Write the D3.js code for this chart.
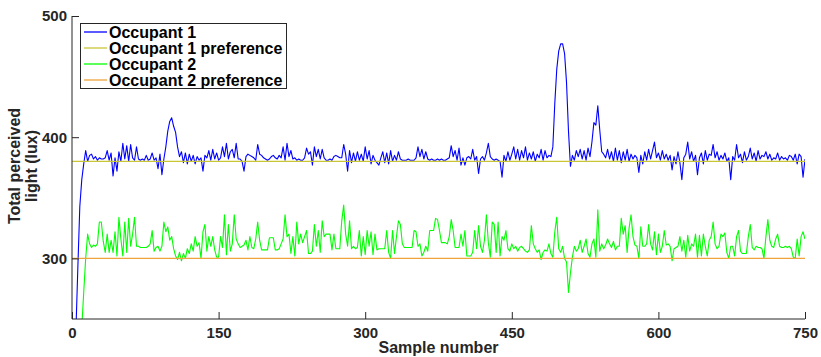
<!DOCTYPE html>
<html>
<head>
<meta charset="utf-8">
<script src="https://cdn.jsdelivr.net/npm/d3@7"></script>
<style>
  html, body { margin: 0; padding: 0; background: #fff; }
  svg { display: block; }
  text { font-family: "Liberation Sans", Arial, Helvetica, sans-serif; font-weight: bold; }
</style>
</head>
<body>
<svg id="chart" width="821" height="357"></svg>
<script>
// ---- data ----
const sampleStep = 2; // values listed at samples 0, 2, 4, ..., 750
const occupant1 = [
  140,190,240,293,343,365,378,389,380,385,
  386,382,384,381,383,382,382,383,389,381,
  387,368,383,372,388,380,395,382,393,380,
  394,383,381,392,382,381,382,381,385,381,
  382,387,381,383,374,386,369,382,392,405,
  413,416,409,404,392,384,388,379,387,378,
  386,380,385,378,384,381,383,372,385,383,
  389,381,390,382,387,381,383,392,384,395,
  382,388,390,383,395,382,382,380,372,384,
  386,385,384,383,381,394,386,385,383,382,
  381,382,384,385,383,382,385,383,392,381,
  395,384,389,382,383,381,382,381,381,383,
  391,386,388,377,392,384,390,382,390,383,
  381,381,382,381,384,385,384,383,383,394,
  386,372,389,379,387,380,388,381,386,380,
  392,382,389,378,385,381,379,377,383,388,
  379,387,378,389,380,385,381,388,382,381,
  381,381,382,381,381,381,383,392,384,390,
  382,388,382,381,382,381,381,382,381,382,
  381,381,382,383,393,384,389,381,391,377,
  383,377,383,384,382,390,381,384,370,382,
  384,381,387,395,384,382,381,382,381,380,
  367,385,380,388,381,386,392,382,390,381,
  389,383,392,381,387,382,388,380,386,383,
  390,381,389,383,385,384,392,428,456,471,
  477,477,469,445,405,376,385,381,389,384,
  390,382,389,381,391,384,396,412,410,426,
  406,388,386,383,390,382,388,380,391,381,
  389,379,388,381,390,380,386,382,385,383,
  371,385,378,388,381,390,382,389,396,383,
  387,381,389,382,386,381,385,373,384,378,
  388,379,365,383,386,396,382,388,380,385,
  369,383,387,378,389,381,386,385,394,383,
  388,381,385,382,387,380,383,365,384,381,
  394,383,386,379,388,381,384,391,382,387,
  380,389,382,385,384,388,382,386,381,383,
  382,387,381,384,382,383,381,385,384,381,
  386,378,386,384,367,382
];
const occupant2 = [
  100,127,156,185,214,243,272,300,320,312,
  309,311,310,312,330,330,314,305,320,305,
  315,305,322,302,334,316,302,330,305,333,
  310,320,334,310,310,309,309,309,309,310,
  312,323,306,309,310,306,310,330,322,326,
  315,318,308,302,299,305,298,304,300,308,
  304,312,306,318,310,313,300,322,328,306,
  318,310,318,307,301,301,318,309,336,303,
  328,306,312,336,316,312,309,310,311,315,
  307,318,309,308,316,330,315,307,307,307,
  307,317,317,317,307,307,308,312,316,336,
  318,320,304,318,302,330,312,320,313,318,
  323,304,304,306,328,310,323,305,331,318,
  320,320,320,307,320,308,308,308,331,344,
  320,310,331,308,310,308,309,323,302,318,
  303,323,310,322,303,320,307,308,308,308,
  308,323,305,300,323,304,318,331,328,312,
  309,309,309,309,309,323,322,310,312,302,
  305,310,306,323,323,323,333,332,323,313,
  313,313,312,318,332,323,309,309,309,320,
  310,323,302,302,302,305,323,308,327,310,
  305,315,336,313,301,330,328,305,330,302,
  318,315,323,308,306,312,308,310,306,309,
  310,308,306,305,307,327,312,308,305,307,
  299,305,307,306,312,304,301,322,334,308,
  305,310,300,297,272,288,301,310,306,308,
  315,305,310,316,304,301,312,316,301,340,
  306,312,308,311,316,312,309,314,307,310,
  310,333,320,327,305,325,336,318,311,310,
  300,326,310,310,312,328,312,307,322,303,
  320,305,310,323,311,312,310,298,308,309,
  310,318,306,315,301,319,306,312,310,320,
  301,319,302,320,310,302,315,318,330,312,
  308,310,320,318,321,305,300,310,310,302,
  318,323,306,304,304,304,318,328,309,307,
  310,309,309,308,300,318,332,315,310,309,
  316,320,310,309,309,310,309,310,308,301,
  300,316,302,318,322,316
];
const preference1 = 380;
const preference2 = 300;
const xDomain = [0, 750];
const yDomain = [250, 500];
const xTicks = [0, 150, 300, 450, 600, 750];
const yTicks = [300, 400, 500];
const legendLabels = ["Occupant 1", "Occupant 1 preference", "Occupant 2", "Occupant 2 preference"];
const seriesColors = ["#0000ff", "#c9c636", "#00ff00", "#eea43a"];

(function () {
  // ---- layout ----
  const svg = d3.select("#chart");
  const pL = 72, pR = 805, pT = 16, pB = 319;
  const x = d3.scaleLinear().domain(xDomain).range([pL, pR]);
  const y = d3.scaleLinear().domain(yDomain).range([pB, pT]);
  const axisColor = "#262626";

  svg.append("defs").append("clipPath").attr("id", "plotclip")
    .append("rect").attr("x", pL).attr("y", pT).attr("width", pR - pL).attr("height", pB - pT);

  const plot = svg.append("g").attr("clip-path", "url(#plotclip)");
  const line = d3.line().x((d, i) => x(i * sampleStep)).y(d => y(d));

  plot.append("path").datum(occupant1).attr("d", line)
    .attr("fill", "none").attr("stroke", seriesColors[0]).attr("stroke-width", 1.1).attr("stroke-linejoin", "round");
  plot.append("line").attr("x1", x(xDomain[0])).attr("x2", x(xDomain[1]))
    .attr("y1", y(preference1)).attr("y2", y(preference1))
    .attr("stroke", seriesColors[1]).attr("stroke-width", 1.3);
  plot.append("path").datum(occupant2).attr("d", line)
    .attr("fill", "none").attr("stroke", seriesColors[2]).attr("stroke-width", 1.1).attr("stroke-linejoin", "round");
  plot.append("line").attr("x1", x(xDomain[0])).attr("x2", x(xDomain[1]))
    .attr("y1", y(preference2)).attr("y2", y(preference2))
    .attr("stroke", seriesColors[3]).attr("stroke-width", 1.3);

  const xAxis = d3.axisBottom(x).tickValues(xTicks).tickSize(-7).tickPadding(8).tickSizeOuter(0);
  const yAxis = d3.axisLeft(y).tickValues(yTicks).tickSize(-7).tickPadding(5).tickSizeOuter(0);

  const gx = svg.append("g").attr("transform", `translate(0,${pB})`).call(xAxis);
  const gy = svg.append("g").attr("transform", `translate(${pL},0)`).call(yAxis);
  [gx, gy].forEach(g => {
    g.select(".domain").attr("stroke", axisColor).attr("stroke-width", 1);
    g.selectAll(".tick line").attr("stroke", axisColor).attr("stroke-width", 1);
    g.selectAll(".tick text").attr("fill", axisColor).attr("font-size", 15)
      .attr("font-family", '"Liberation Sans", Arial, sans-serif').attr("font-weight", "bold");
  });
  gy.select(".domain").attr("d", `M0,${pB}V${pT}`);
  gx.select(".domain").attr("d", `M${pL},0H${pR}`);

  svg.append("text").attr("x", (pL + pR) / 2).attr("y", 353)
    .attr("text-anchor", "middle").attr("font-size", 16).attr("fill", axisColor)
    .text("Sample number");
  const yl = svg.append("text").attr("transform", "translate(0,166) rotate(-90)")
    .attr("text-anchor", "middle").attr("font-size", 16).attr("fill", axisColor);
  yl.append("tspan").attr("x", 0).attr("y", 20).text("Total perceived");
  yl.append("tspan").attr("x", 0).attr("y", 37).text("light (lux)");

  const lg = svg.append("g");
  lg.append("rect").attr("x", 80.5).attr("y", 23.5).attr("width", 206).attr("height", 65)
    .attr("fill", "#fff").attr("stroke", axisColor).attr("stroke-width", 1);
  legendLabels.forEach((lab, i) => {
    const cy = 32 + i * 16;
    lg.append("line").attr("x1", 84).attr("x2", 107).attr("y1", cy).attr("y2", cy)
      .attr("stroke", seriesColors[i]).attr("stroke-width", 1.3);
    lg.append("text").attr("x", 109).attr("y", cy + 5.5).attr("font-size", 16).attr("fill", "#000").text(lab);
  });
})();
</script>
</body>
</html>
